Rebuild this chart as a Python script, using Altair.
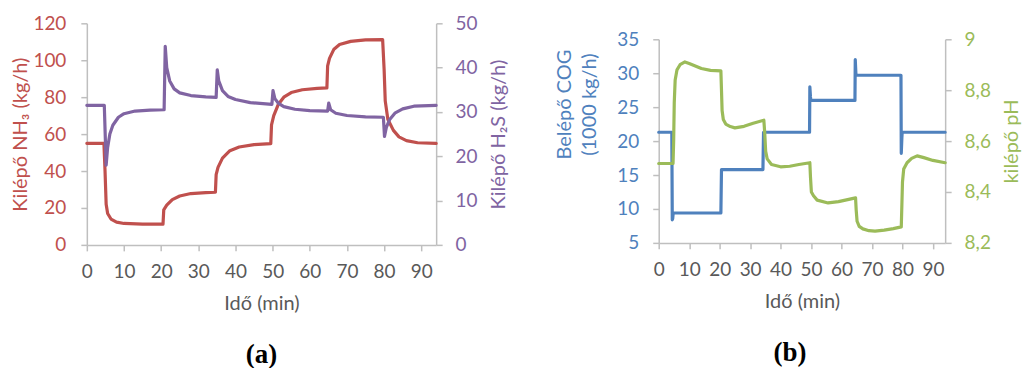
import altair as alt
import pandas as pd

# ---------------- data ----------------
# Panel (a): Kilépő NH3 (left axis, kg/h)
nh3_t = [0, 4.6, 4.9, 5.2, 5.6, 6.5, 8, 10, 15, 20.5, 20.7, 21.5, 23, 25, 28, 32, 34.6,
         34.8, 35.3, 36.5, 38.5, 41, 45, 49.5, 49.7, 50.3, 51.5, 53, 55, 58, 62, 64.6,
         64.8, 65.3, 66.5, 68, 71, 75, 79.6, 80, 80.3, 81, 82.5, 84, 86, 89, 94]
nh3_v = [55, 55, 40, 22, 17, 14, 12.3, 11.6, 11.2, 11.2, 19, 21.5, 24.5, 26.5, 27.8, 28.3, 28.5,
         38, 42, 47, 51, 53, 54.3, 54.8, 65, 70, 76, 80, 82.5, 84, 84.8, 85,
         97, 101, 106, 108.5, 110.2, 111, 111.2, 95, 78, 68, 62, 58.5, 56.5, 55.3, 55]

# Panel (a): Kilépő H2S (right axis, kg/h)
h2s_t = [0, 4.7, 5.2, 5.6, 6.2, 7, 8.5, 10, 13, 17, 20.8, 21.1, 21.5, 22.3, 23.5, 25, 28, 32,
         34.8, 35.1, 35.5, 36.5, 38, 40, 44, 49.8, 50.1, 50.6, 51.5, 53, 56, 60, 64.8,
         65.1, 65.6, 67, 70, 75, 79.8, 80.1, 80.6, 81.5, 83, 85, 88, 94]
h2s_v = [31.5, 31.5, 18, 22, 25, 27, 28.8, 29.6, 30.2, 30.4, 30.5, 44.8, 40, 37, 35.2, 34.3, 33.7, 33.4,
         33.3, 39.5, 37, 34.8, 33.5, 32.8, 32.1, 31.7, 34.8, 33, 32, 31.2, 30.6, 30.3, 30.2,
         32, 30.5, 29.7, 29.2, 28.9, 28.8, 24.5, 26.5, 28.3, 29.8, 30.7, 31.3, 31.5]

# Panel (b): Belépő COG (left axis, 1000 kg/h)
cog_t = [0, 4.3, 4.45, 4.6, 4.75, 20.4, 20.6, 34.2, 34.4, 49.5, 49.6, 49.8, 49.9, 64.4,
         64.5, 64.7, 64.8, 79.5, 79.6, 79.8, 79.9, 94]
cog_v = [21.3, 21.3, 8.4, 8.6, 9.4, 9.4, 15.8, 15.8, 21.3, 21.3, 28, 26.5, 26, 26,
         32, 30, 29.7, 29.7, 18.2, 20.5, 21.3, 21.3]

# Panel (b): kilépő pH (right axis)
ph_t = [0, 4.7, 4.9, 5.1, 5.4, 6, 7, 8.6, 10, 12, 14, 17, 20.4, 20.6, 20.8, 21.2, 22, 23.5,
        25, 28, 31, 34.5, 34.8, 35.1, 35.6, 37, 40, 43, 46, 49.6, 49.8, 50.1, 50.8, 52,
        55.6, 59, 62, 64.6, 64.8, 65.1, 65.8, 67, 69, 71, 74, 77, 79.6, 79.8, 80, 80.4,
        81.5, 83, 84.8, 87, 90, 94]
ph_v = [8.512, 8.512, 8.6, 8.75, 8.84, 8.88, 8.9, 8.911, 8.905, 8.895, 8.885, 8.878, 8.876, 8.8,
        8.72, 8.685, 8.667, 8.657, 8.652, 8.658, 8.67, 8.682, 8.63, 8.56, 8.53, 8.508, 8.499,
        8.501, 8.508, 8.515, 8.46, 8.4, 8.385, 8.368, 8.357, 8.362, 8.37, 8.377, 8.33, 8.285,
        8.265, 8.255, 8.248, 8.246, 8.25, 8.256, 8.263, 8.35, 8.44, 8.49, 8.515, 8.532,
        8.542, 8.535, 8.524, 8.515]

x_ticks = [0, 10, 20, 30, 40, 50, 60, 70, 80, 90]

RED = "#C0504D"
PURPLE = "#8064A2"
BLUE = "#4F81BD"
GREEN = "#9BBB59"
GRAY_AX = "#BFBFBF"
GRAY_TXT = "#595959"
FONT = "Lato"

df_nh3 = pd.DataFrame({"t": nh3_t, "v": nh3_v})
df_h2s = pd.DataFrame({"t": h2s_t, "v": h2s_v})
df_cog = pd.DataFrame({"t": cog_t, "v": cog_v})
df_ph = pd.DataFrame({"t": ph_t, "v": ph_v})


def xenc():
    return alt.X(
        "t:Q",
        scale=alt.Scale(domain=[0, 94], nice=False, zero=False),
        axis=alt.Axis(values=x_ticks, title="Idő (min)", titleColor=GRAY_TXT,
                      labelColor=GRAY_TXT, labelPadding=12, titlePadding=12,
                      labelFlush=False, tickSize=6),
    )


def line(df, color):
    return alt.Chart(df).mark_line(color=color, strokeWidth=3.2, strokeCap="round",
                                   strokeJoin="round")


# ---------------- panel (a) ----------------
a_left = line(df_nh3, RED).encode(
    x=xenc(),
    y=alt.Y("v:Q", scale=alt.Scale(domain=[0, 120], nice=False),
            axis=alt.Axis(values=[0, 20, 40, 60, 80, 100, 120], title="Kilépő NH₃ (kg/h)",
                          titleColor=RED, labelColor=RED, labelPadding=15, titlePadding=2,
                          tickSize=6)),
)
a_right = line(df_h2s, PURPLE).encode(
    x=xenc(),
    y=alt.Y("v:Q", scale=alt.Scale(domain=[0, 50], nice=False),
            axis=alt.Axis(orient="right", values=[0, 10, 20, 30, 40, 50],
                          title="Kilépő H₂S  (kg/h)", titleAngle=270, titleBaseline="top",
                          titleColor=PURPLE, labelColor=PURPLE, labelPadding=13,
                          titlePadding=11, tickSize=6)),
)
panel_a = alt.layer(a_left, a_right).resolve_scale(y="independent").properties(
    width=350, height=222,
    title=alt.TitleParams("(a)", orient="bottom", offset=28, anchor="middle", frame="group"),
)

# ---------------- panel (b) ----------------
b_left = line(df_cog, BLUE).encode(
    x=xenc(),
    y=alt.Y("v:Q", scale=alt.Scale(domain=[5, 35], nice=False, zero=False),
            axis=alt.Axis(values=[5, 10, 15, 20, 25, 30, 35],
                          title=["Belépő COG", "(1000 kg/h)"], titleLineHeight=25,
                          titleColor=BLUE, labelColor=BLUE, labelPadding=14,
                          titlePadding=17, titleY=65, tickSize=6)),
)
b_right = line(df_ph, GREEN).encode(
    x=xenc(),
    y=alt.Y("v:Q", scale=alt.Scale(domain=[8.2, 9.0], nice=False, zero=False),
            axis=alt.Axis(orient="right", values=[8.2, 8.4, 8.6, 8.8, 9.0],
                          labelExpr="replace(format(datum.value, '.1~f'), '.', ',')",
                          title="kilépő pH", titleAngle=270, titleBaseline="top",
                          titleColor=GREEN, labelColor=GREEN, labelPadding=13,
                          titlePadding=11, tickSize=6)),
)
panel_b_inner = alt.layer(b_left, b_right).resolve_scale(y="independent").properties(
    width=287, height=204,
    title=alt.TitleParams("(b)", orient="bottom", offset=28, anchor="middle",
                          frame="group", dx=-12),
)
spacer = alt.Chart(pd.DataFrame({"s": [0]})).mark_point(opacity=0).encode(
    x=alt.value(0), y=alt.value(0)
).properties(width=287, height=1)
panel_b = alt.vconcat(spacer, panel_b_inner, spacing=4)

chart = (
    alt.hconcat(panel_a, panel_b, spacing=45)
    .properties(padding={"left": 10, "top": 14, "right": 0, "bottom": 0},
                background="white")
    .configure_view(stroke=None)
    .configure_axis(labelFont=FONT, titleFont=FONT, labelFontSize=19, titleFontSize=20,
                    titleFontWeight="normal", grid=False, domainColor=GRAY_AX,
                    domainWidth=1.5, tickColor=GRAY_AX, tickWidth=1.5)
    .configure_title(font="Liberation Serif", fontSize=27, fontWeight="bold", color="black")
)

chart.save("out.html", embed_options={"renderer": "svg", "actions": False})
